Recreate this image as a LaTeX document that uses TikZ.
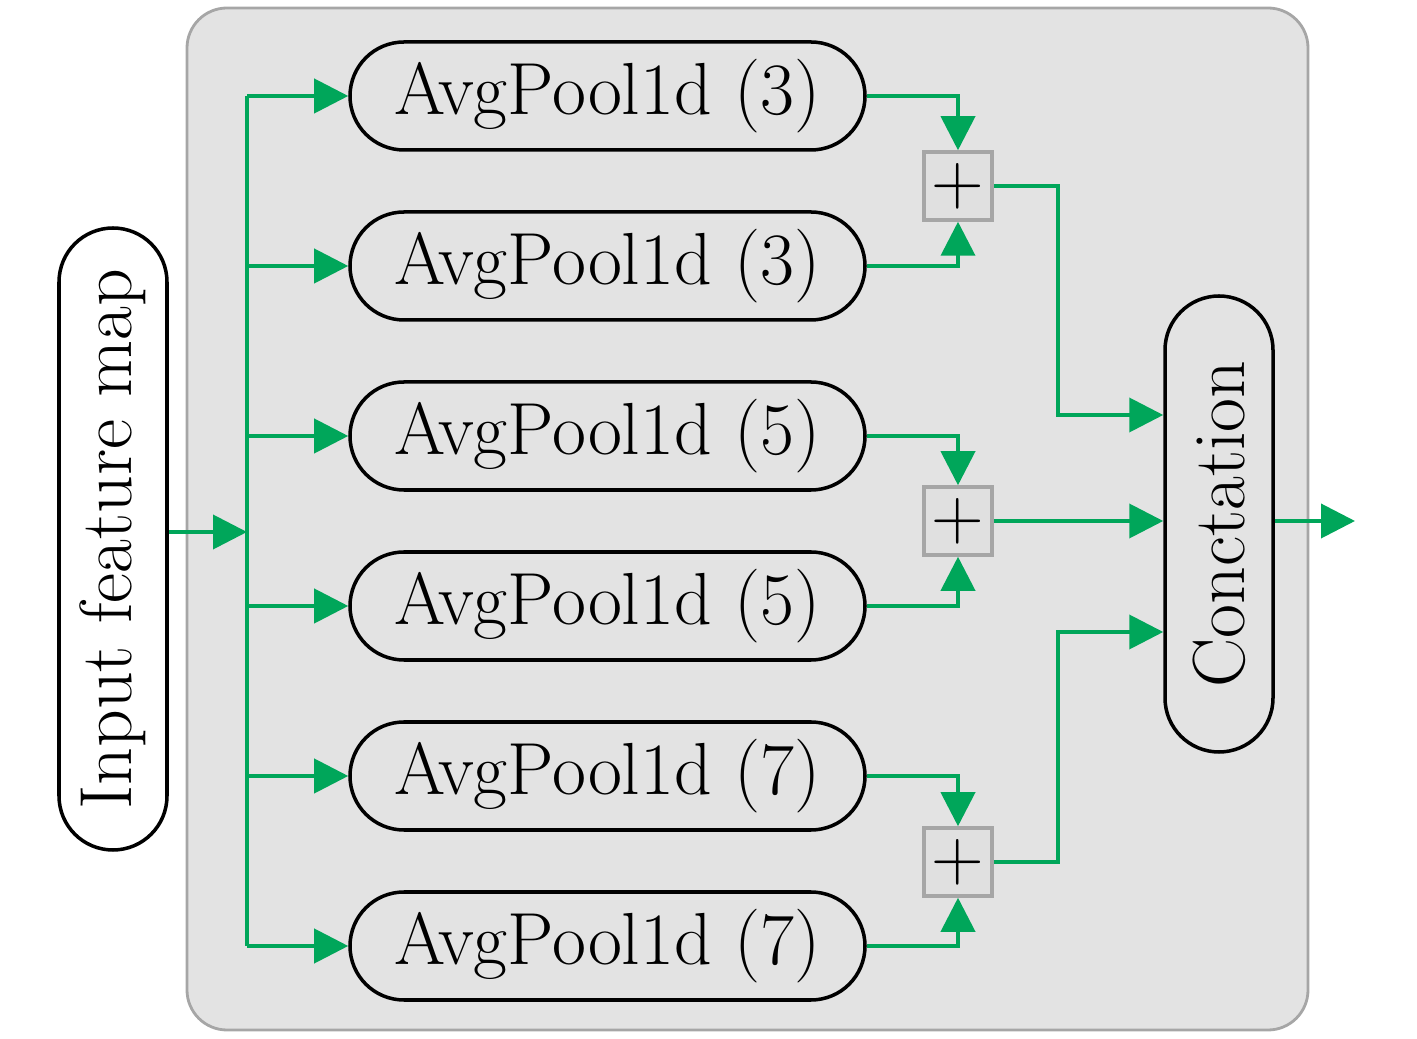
\documentclass[tikz,border=0pt]{standalone}
\usepackage{tikz}
\usepackage{xcolor}
\usetikzlibrary{positioning,arrows.meta,calc}

\definecolor{flowgreen}{RGB}{0,166,90}
\definecolor{panelgray}{RGB}{227,227,227}

\begin{document}
\begin{tikzpicture}[
        pool/.style={rectangle,draw=black,line width=1pt,rounded corners=0.54cm,
          inner sep=0pt,minimum width=5.15cm,minimum height=1.08cm,
          font=\fontsize{21}{25}\selectfont},
        tall/.style={rectangle,draw=black,line width=1pt,rounded corners=0.54cm,
          inner sep=0pt,minimum height=1.08cm,rotate=90,
          font=\fontsize{21}{25}\selectfont},
        sum/.style={rectangle,draw=black!35,fill=black!12,line width=1pt,
          inner sep=0pt,minimum size=0.68cm,
          font=\fontsize{21}{25}\selectfont},
        flow/.style={draw=flowgreen,line width=1.1pt,
          -{Triangle[length=3.4mm,width=3.4mm]}}]
      \useasboundingbox (0,0) rectangle (14.17,10.39);
      % panel
      \draw[black!35,fill=panelgray,thick,rounded corners=0.4cm]
        (1.87,0.09) rectangle (13.08,10.31);
      % input and pooling branches
      \node (in) at (1.13,5.00) [tall,minimum width=6.22cm] {Input feature map};
      \node (p1) at (6.075,9.43) [pool] {AvgPool1d (3)};
      \node (p2) at (6.075,7.73) [pool] {AvgPool1d (3)};
      \node (p3) at (6.075,6.03) [pool] {AvgPool1d (5)};
      \node (p4) at (6.075,4.33) [pool] {AvgPool1d (5)};
      \node (p5) at (6.075,2.63) [pool] {AvgPool1d (7)};
      \node (p6) at (6.075,0.93) [pool] {AvgPool1d (7)};
      \node (s1) at (9.58,8.53) [sum] {$+$};
      \node (s2) at (9.58,5.18) [sum] {$+$};
      \node (s3) at (9.58,1.77) [sum] {$+$};
      \node (cc) at (12.19,5.15) [tall,minimum width=4.56cm] {Conctation};
      \coordinate (split) at (2.47,5.07);
      \coordinate (j1) at (10.58,6.24);
      \coordinate (j3) at (10.58,4.07);
      \coordinate (out) at (13.55,5.18);
      % connectors
      \draw[flow] (in.south |- split) -- (split);
      \draw[flowgreen,line width=1.1pt] (split |- p1) -- (split |- p6);
      \foreach \p in {p1,p2,p3,p4,p5,p6}
        \draw[flow] (split |- \p) -- (\p.west);
      \draw[flow] (p1.east) -| (s1.north);
      \draw[flow] (p2.east) -| (s1.south);
      \draw[flow] (p3.east) -| (s2.north);
      \draw[flow] (p4.east) -| (s2.south);
      \draw[flow] (p5.east) -| (s3.north);
      \draw[flow] (p6.east) -| (s3.south);
      \draw[flow] (s1.east) -| (j1) -- (j1 -| cc.north);
      \draw[flow] (s2.east) -- (s2.east -| cc.north);
      \draw[flow] (s3.east) -| (j3) -- (j3 -| cc.north);
      \draw[flow] (cc.south |- out) -- (out);
    \end{tikzpicture}
\end{document}
